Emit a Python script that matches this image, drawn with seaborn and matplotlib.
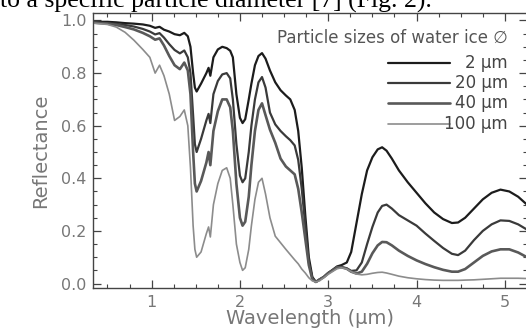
import matplotlib
matplotlib.use("Agg")
import matplotlib.pyplot as plt
from matplotlib.ticker import MultipleLocator
import seaborn as sns
import pandas as pd

# wavelength grid (um), shared by all four spectra
wl = [0.34, 0.5, 0.6, 0.7, 0.8, 0.9, 0.98, 1.04, 1.09, 1.14,
      1.2, 1.26, 1.32, 1.37, 1.41, 1.44, 1.47, 1.49, 1.51, 1.56,
      1.62, 1.645, 1.665, 1.70, 1.75, 1.80, 1.85, 1.89, 1.92, 1.96,
      2.0, 2.03, 2.06, 2.1, 2.13, 2.17, 2.21, 2.25, 2.29, 2.34,
      2.40, 2.46, 2.52, 2.57, 2.62, 2.66, 2.70, 2.74, 2.78, 2.82,
      2.86, 2.9, 2.95, 3.0, 3.06, 3.1, 3.15, 3.21, 3.26, 3.32,
      3.38, 3.44, 3.5, 3.56, 3.61, 3.66, 3.72, 3.8, 3.9, 4.0,
      4.1, 4.2, 4.3, 4.4, 4.47, 4.55, 4.65, 4.75, 4.85, 4.95,
      5.05, 5.15, 5.25]

r2 = [0.995, 0.995, 0.993, 0.99, 0.988, 0.985, 0.98, 0.972, 0.976, 0.965,
      0.958, 0.948, 0.944, 0.953, 0.94, 0.90, 0.80, 0.745, 0.73, 0.76,
      0.80, 0.82, 0.79, 0.86, 0.89, 0.90, 0.895, 0.885, 0.86, 0.72,
      0.63, 0.61, 0.625, 0.70, 0.76, 0.83, 0.865, 0.876, 0.855, 0.81,
      0.765, 0.735, 0.715, 0.70, 0.66, 0.58, 0.44, 0.26, 0.10, 0.025,
      0.006, 0.015, 0.025, 0.04, 0.055, 0.065, 0.07, 0.08, 0.12, 0.23,
      0.34, 0.43, 0.48, 0.51, 0.518, 0.505, 0.475, 0.43, 0.385, 0.345,
      0.305, 0.27, 0.245, 0.23, 0.232, 0.25, 0.285, 0.32, 0.345, 0.357,
      0.35, 0.33, 0.30]

r20 = [0.993, 0.99, 0.987, 0.983, 0.977, 0.968, 0.958, 0.947, 0.952, 0.935,
       0.91, 0.888, 0.875, 0.886, 0.86, 0.80, 0.64, 0.53, 0.50, 0.55,
       0.62, 0.645, 0.61, 0.72, 0.77, 0.795, 0.80, 0.78, 0.70, 0.53,
       0.41, 0.385, 0.40, 0.50, 0.60, 0.70, 0.765, 0.785, 0.745, 0.65,
       0.605, 0.58, 0.56, 0.545, 0.525, 0.47, 0.36, 0.22, 0.08, 0.02,
       0.006, 0.015, 0.025, 0.04, 0.052, 0.062, 0.063, 0.058, 0.048, 0.05,
       0.08, 0.15, 0.215, 0.27, 0.295, 0.30, 0.285, 0.26, 0.24, 0.22,
       0.19, 0.162, 0.135, 0.113, 0.108, 0.125, 0.165, 0.20, 0.225, 0.24,
       0.238, 0.225, 0.205]

r40 = [0.992, 0.988, 0.983, 0.975, 0.966, 0.953, 0.94, 0.927, 0.932, 0.905,
       0.865, 0.83, 0.815, 0.84, 0.81, 0.72, 0.50, 0.38, 0.35, 0.39,
       0.46, 0.50, 0.45, 0.58, 0.655, 0.70, 0.70, 0.67, 0.58, 0.38,
       0.25, 0.22, 0.235, 0.33, 0.45, 0.58, 0.66, 0.685, 0.64, 0.585,
       0.535, 0.475, 0.445, 0.43, 0.415, 0.36, 0.27, 0.17, 0.07, 0.015,
       0.006, 0.015, 0.025, 0.04, 0.052, 0.062, 0.062, 0.056, 0.045, 0.038,
       0.045, 0.075, 0.115, 0.145, 0.158, 0.157, 0.145, 0.125, 0.105, 0.088,
       0.074, 0.062, 0.052, 0.045, 0.045, 0.055, 0.08, 0.105, 0.122, 0.13,
       0.13, 0.118, 0.10]

r100 = [0.99, 0.985, 0.975, 0.955, 0.925, 0.89, 0.86, 0.80, 0.83, 0.79,
        0.72, 0.62, 0.635, 0.66, 0.60, 0.44, 0.22, 0.13, 0.10, 0.12,
        0.19, 0.215, 0.177, 0.30, 0.38, 0.43, 0.44, 0.40, 0.30, 0.15,
        0.08, 0.05, 0.06, 0.13, 0.22, 0.32, 0.385, 0.40, 0.34, 0.25,
        0.18, 0.155, 0.13, 0.11, 0.09, 0.075, 0.055, 0.04, 0.022, 0.01,
        0.006, 0.01, 0.022, 0.035, 0.048, 0.056, 0.06, 0.055, 0.045, 0.036,
        0.033, 0.035, 0.039, 0.042, 0.043, 0.04, 0.035, 0.028, 0.022, 0.018,
        0.015, 0.013, 0.012, 0.012, 0.012, 0.013, 0.014, 0.016, 0.018, 0.02,
        0.02, 0.02, 0.019]

sizes = ["2 \u03bcm", "20 \u03bcm", "40 \u03bcm", "100 \u03bcm"]
series = [r2, r20, r40, r100]
colors = ["#1c1c1c", "#3a3a3a", "#595959", "#8c8c8c"]
widths = [1.6, 1.6, 1.9, 1.2]

sns.set_style("ticks")
plt.rcParams['font.family'] = ['DejaVu Sans']

fig = plt.figure(figsize=(5.26, 3.30), dpi=100)
ax = fig.add_axes([0.1774, 0.1273, 0.8236, 0.8333])

for lab, vals, c, w in zip(sizes, series, colors, widths):
    df = pd.DataFrame({"wl": wl, "refl": vals})
    sns.lineplot(data=df, x="wl", y="refl", ax=ax, color=c, lw=w, sort=False)

ax.set_xlim(0.34, 5.245)
ax.set_ylim(-0.017, 1.0285)
ax.set_xticks([1, 2, 3, 4, 5])
ax.set_yticks([0.0, 0.2, 0.4, 0.6, 0.8, 1.0])
ax.set_yticklabels(["0.0", "0.2", "0.4", "0.6", "0.8", "1.0"])
ax.xaxis.set_minor_locator(MultipleLocator(0.25))
ax.yaxis.set_minor_locator(MultipleLocator(0.05))
ax.tick_params(which='both', direction='in', top=True, right=True,
               color='#444444', labelcolor='#777777', labelsize=11.5)
ax.tick_params(which='major', length=6, width=0.9, pad=5)
ax.tick_params(which='minor', length=3, width=0.8)
for sp in ax.spines.values():
    sp.set_color('#444444')
    sp.set_linewidth(1.0)

ax.set_xlabel("Wavelength (\u03bcm)", fontsize=14, color='#777777', labelpad=-1)
ax.set_ylabel("Reflectance", fontsize=14, color='#777777', labelpad=8)

# legend drawn by hand, right aligned like the original
ax.text(0.9565, 0.909, "Particle sizes of water ice \u2205", transform=ax.transAxes,
        ha='right', va='center', fontsize=12, color='#555555')
leg_y = [0.818, 0.745, 0.673, 0.596]
for lab, c, w, yy in zip(sizes, colors, widths, leg_y):
    ax.plot([0.68, 0.823], [yy, yy], transform=ax.transAxes, color=c, lw=w)
    ax.text(0.9565, yy, lab, transform=ax.transAxes, ha='right', va='center',
            fontsize=12, color='#444444')

# caption fragment cut off at the top of the page crop
fig.text(0.0, 1 - 7.5 / 330, "to a specific particle diameter [7] (Fig. 2).",
         family=['Liberation Serif', 'DejaVu Serif'], fontsize=18.5, color='black',
         ha='left', va='baseline')

fig.savefig("out.png", dpi=100)
